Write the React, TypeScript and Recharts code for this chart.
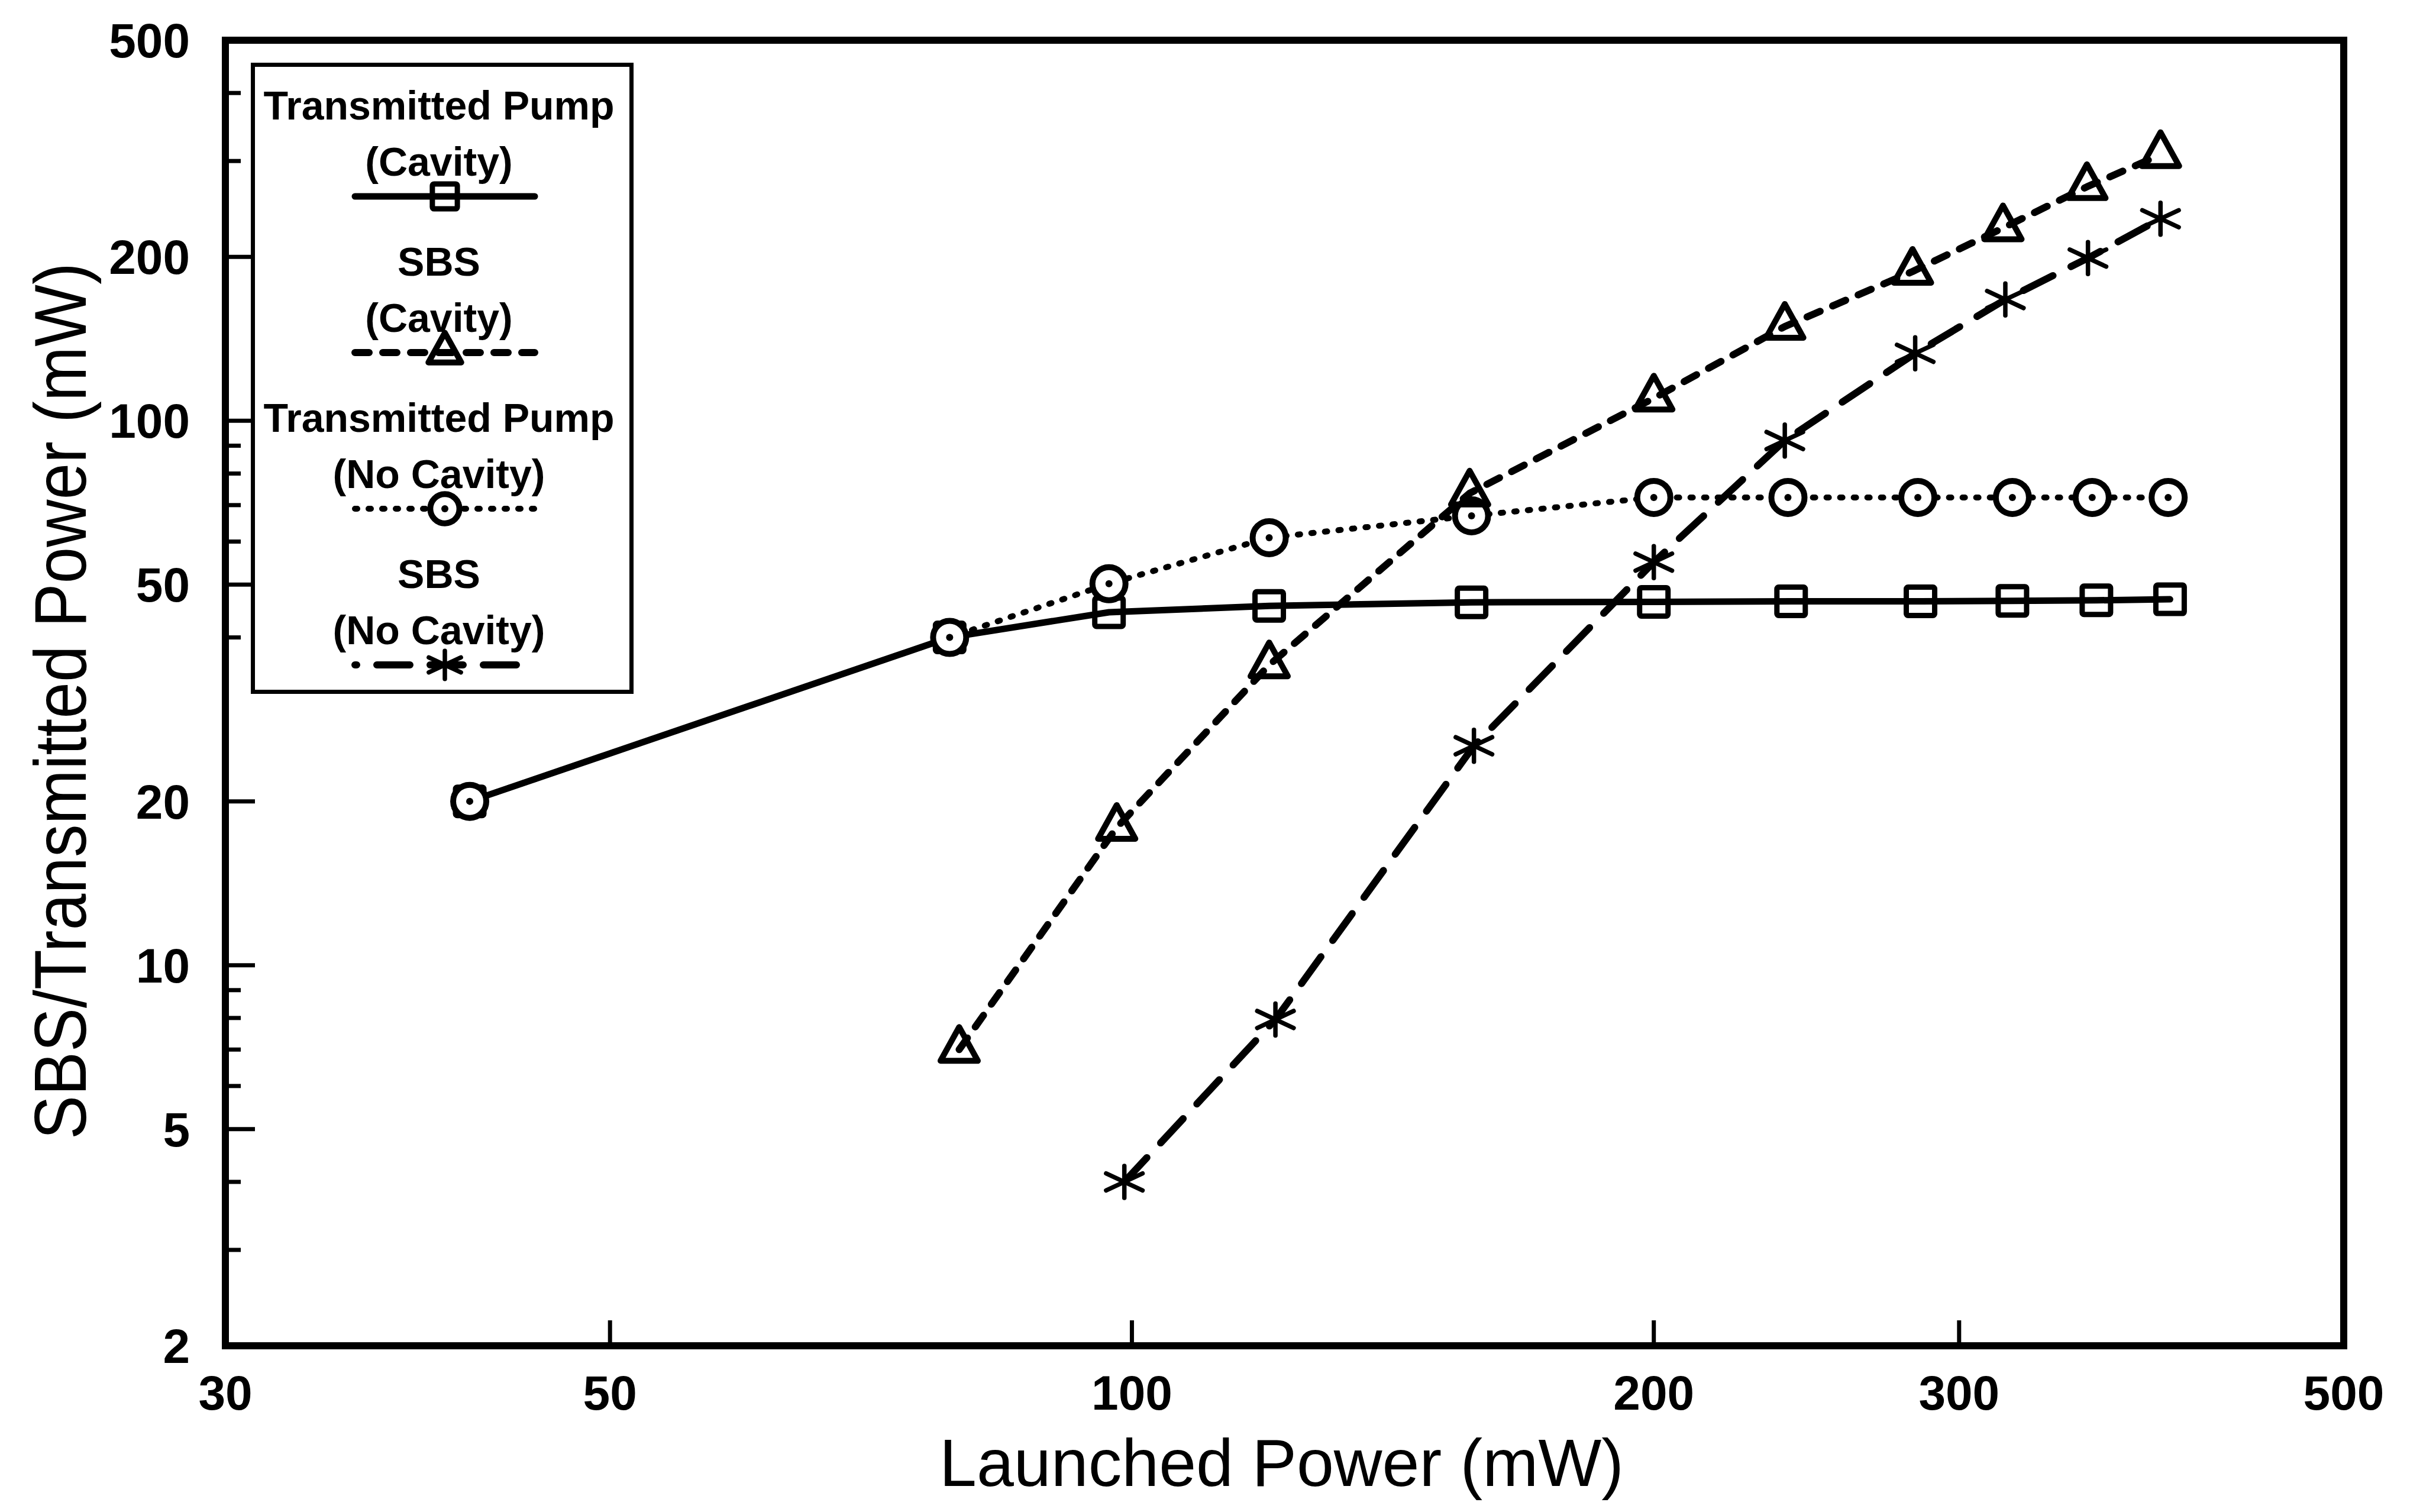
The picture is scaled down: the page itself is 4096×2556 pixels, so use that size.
import React from "react";
import { LineChart, Line, XAxis, YAxis, Legend, ReferenceArea } from "recharts";

// launched power (mW) and output power (mW)
const pumpCavityPower = [41.5, 78.5, 97, 120, 157, 200, 240, 285, 322, 360, 397];
const pumpCavityOut = [20, 40, 44.5, 45.7, 46.4, 46.5, 46.6, 46.6, 46.7, 46.8, 47];

const pumpNoCavityPower = [41.5, 78.5, 97, 120, 157, 200, 239, 284, 322, 358, 396];
const pumpNoCavityOut = [20, 40, 50.2, 61, 66.9, 72.3, 72.3, 72.3, 72.3, 72.3, 72.3];

const sbsCavityPower = [79.5, 98, 120, 156.6, 200, 238, 282, 318, 355.5, 392];
const sbsCavityOut = [7, 17.9, 35.6, 73.6, 110, 149, 188, 226, 269, 308];

const sbsNoCavityPower = [99, 121, 157.5, 200, 238, 283, 319, 356, 392];
const sbsNoCavityOut = [4, 7.95, 25.3, 55, 92, 133, 167, 199, 235];

const xTicks = [30, 50, 100, 200, 300, 500];
const xTickMarks = [50, 100, 200, 300];
const yLabelTicks = [2, 5, 10, 20, 50, 100, 200, 500];
const yMajorTicks = [5, 10, 20, 50, 100, 200];
const yMinorTicks = [3, 4, 6, 7, 8, 9, 40, 60, 70, 80, 90, 300, 400];

const legendLabels = [
  ["Transmitted Pump", "(Cavity)"],
  ["SBS", "(Cavity)"],
  ["Transmitted Pump", "(No Cavity)"],
  ["SBS", "(No Cavity)"],
];

const FONT = "'Liberation Sans', Arial, Helvetica, sans-serif";
const PLOT_LEFT = 381;
const PLOT_BOTTOM = 2275;

const toPoints = (xs: number[], ys: number[]) => xs.map((x, i) => ({ x, y: ys[i] }));

type Shape = "square" | "triangle" | "circle" | "star";

const SERIES: {
  id: string;
  shape: Shape;
  points: { x: number; y: number }[];
  width: number;
  dash?: string;
}[] = [
  { id: "pumpCavity", shape: "square", points: toPoints(pumpCavityPower, pumpCavityOut), width: 11 },
  { id: "sbsCavity", shape: "triangle", points: toPoints(sbsCavityPower, sbsCavityOut), width: 12, dash: "24 23" },
  { id: "pumpNoCavity", shape: "circle", points: toPoints(pumpNoCavityPower, pumpNoCavityOut), width: 10, dash: "4 19" },
  { id: "sbsNoCavity", shape: "star", points: toPoints(sbsNoCavityPower, sbsNoCavityOut), width: 12, dash: "56 34" },
];

// draw order: square line first so circles sit on top of it
const DRAW_ORDER = ["pumpCavity", "pumpNoCavity", "sbsCavity", "sbsNoCavity"];

function Marker({ shape, cx, cy, s = 1 }: { shape: Shape; cx: number; cy: number; s?: number }) {
  if (cx == null || cy == null) return null;
  if (shape === "square") {
    return (
      <rect x={cx - 24 * s} y={cy - 24 * s} width={48 * s} height={48 * s} rx={3}
        fill="none" stroke="#000" strokeWidth={9} />
    );
  }
  if (shape === "circle") {
    return (
      <g>
        <circle cx={cx} cy={cy} r={28 * s} fill="#fff" stroke="#000" strokeWidth={10} />
        <circle cx={cx} cy={cy} r={6} fill="#000" />
      </g>
    );
  }
  if (shape === "triangle") {
    const pts = [
      [cx, cy - 38 * s],
      [cx + 31.5 * s, cy + 19 * s],
      [cx - 31.5 * s, cy + 19 * s],
    ]
      .map((p) => p.join(","))
      .join(" ");
    return <polygon points={pts} fill="none" stroke="#000" strokeWidth={10} strokeLinejoin="round" />;
  }
  const dx = 30.8 * s;
  const dy = 14.4 * s;
  const v = 27 * s;
  return (
    <g stroke="#000" strokeWidth={7.5} strokeLinecap="round">
      <line x1={cx} y1={cy - v} x2={cx} y2={cy + v} />
      <line x1={cx - dx} y1={cy - dy} x2={cx + dx} y2={cy + dy} />
      <line x1={cx - dx} y1={cy + dy} x2={cx + dx} y2={cy - dy} />
    </g>
  );
}

const YTick = (props: any) => {
  const { y, payload } = props;
  const v = payload.value;
  const len = yMajorTicks.includes(v) ? 50 : yMinorTicks.includes(v) ? 26 : 0;
  return (
    <g>
      {len > 0 && (
        <line x1={PLOT_LEFT} x2={PLOT_LEFT + len} y1={y} y2={y} stroke="#000" strokeWidth={7} />
      )}
      {yLabelTicks.includes(v) && (
        <text x={PLOT_LEFT - 60} y={y} dy={29} textAnchor="end" fontFamily={FONT}
          fontWeight="bold" fontSize={82} fill="#000">
          {v}
        </text>
      )}
    </g>
  );
};

const XTick = (props: any) => {
  const { x, payload } = props;
  const v = payload.value;
  return (
    <g>
      {xTickMarks.includes(v) && (
        <line x1={x} x2={x} y1={PLOT_BOTTOM} y2={PLOT_BOTTOM - 43} stroke="#000" strokeWidth={7} />
      )}
      <text x={x} y={PLOT_BOTTOM + 108} textAnchor="middle" fontFamily={FONT}
        fontWeight="bold" fontSize={82} fill="#000">
        {v}
      </text>
    </g>
  );
};

const XTitle = (props: any) => {
  const vb = props.viewBox || { x: PLOT_LEFT, width: 3581 };
  return (
    <text x={vb.x + vb.width / 2 - 5} y={2512} textAnchor="middle" fontFamily={FONT}
      fontSize={114} textLength={1157} lengthAdjust="spacingAndGlyphs" fill="#000">
      Launched Power (mW)
    </text>
  );
};

const YTitle = () => (
  <text x={145} y={1185} transform="rotate(-90 145 1185)" textAnchor="middle" fontFamily={FONT}
    fontSize={124} textLength={1482} lengthAdjust="spacingAndGlyphs" fill="#000">
    SBS/Transmitted Power (mW)
  </text>
);

const LegendPanel = () => {
  const w = 647;
  const h = 1067;
  return (
    <svg width={w} height={h} style={{ display: "block", overflow: "visible" }}>
      <rect x={3.5} y={3.5} width={w - 7} height={h - 7} fill="#fff" stroke="#000" strokeWidth={7} />
      {SERIES.map((s, i) => {
        const lineY = 226 + i * 264;
        return (
          <g key={s.id}>
            <text x={318} y={lineY - 130} textAnchor="middle" fontFamily={FONT} fontWeight="bold"
              fontSize={68} fill="#000">
              {legendLabels[i][0]}
            </text>
            <text x={318} y={lineY - 35} textAnchor="middle" fontFamily={FONT} fontWeight="bold"
              fontSize={68} fill="#000">
              {legendLabels[i][1]}
            </text>
            <line x1={176} x2={480} y1={lineY} y2={lineY} stroke="#000" strokeWidth={s.width}
              strokeDasharray={s.dash} strokeDashoffset={s.shape === "star" ? 53 : 0}
              strokeLinecap="round" />
            <Marker shape={s.shape} cx={328} cy={lineY} s={0.88} />
          </g>
        );
      })}
    </svg>
  );
};

const allYTicks = [...yLabelTicks, ...yMinorTicks].sort((a, b) => a - b);

export default function App() {
  const ordered = DRAW_ORDER.map((id) => SERIES.find((s) => s.id === id)!);
  return (
    <div style={{ position: "absolute", left: 0, top: 0, background: "#fff" }}>
      <LineChart width={4096} height={2556} margin={{ top: 68, right: 134, bottom: 81, left: 81 }}>
        <XAxis
          dataKey="x"
          type="number"
          scale="log"
          domain={[30, 500]}
          ticks={xTicks}
          interval={0}
          height={200}
          tickLine={false}
          axisLine={false}
          tick={(p: any) => <XTick {...p} />}
          allowDataOverflow
          label={(p: any) => <XTitle {...p} />}
        />
        <YAxis
          type="number"
          scale="log"
          domain={[2, 500]}
          ticks={allYTicks}
          interval={0}
          width={300}
          tickLine={false}
          axisLine={false}
          tick={(p: any) => <YTick {...p} />}
          allowDataOverflow
          label={() => <YTitle />}
        />
        <ReferenceArea x1={30} x2={500} y1={2} y2={500} fill="none" stroke="#000" strokeWidth={12}
          ifOverflow="visible" />
        {ordered.map((s) => (
          <Line
            key={s.id}
            data={s.points}
            dataKey="y"
            type="linear"
            stroke="#000"
            strokeWidth={s.width}
            strokeDasharray={s.dash}
            strokeLinecap="round"
            strokeLinejoin="round"
            isAnimationActive={false}
            activeDot={false}
            dot={(p: any) => <Marker key={`${s.id}-${p.index}`} shape={s.shape} cx={p.cx} cy={p.cy} />}
          />
        ))}
        <Legend
          layout="horizontal"
          verticalAlign="middle"
          align="center"
          content={() => <LegendPanel />}
          wrapperStyle={{ left: 424, top: 106, width: 647, height: 1067 }}
        />
      </LineChart>
    </div>
  );
}
